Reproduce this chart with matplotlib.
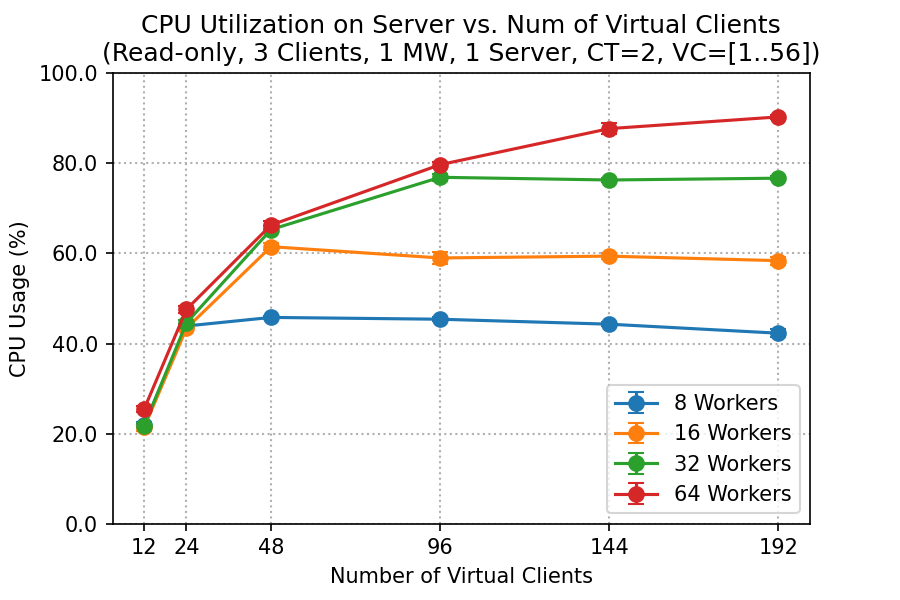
import matplotlib
matplotlib.use("Agg")
import matplotlib.pyplot as plt
from matplotlib.ticker import FormatStrFormatter

vc = [12, 24, 48, 96, 144, 192]
labels = ["8 Workers", "16 Workers", "32 Workers", "64 Workers"]
means = [
    [21.9, 43.9, 45.8, 45.4, 44.3, 42.3],
    [21.4, 43.4, 61.5, 59.0, 59.4, 58.4],
    [21.8, 44.6, 65.3, 76.9, 76.3, 76.7],
    [25.5, 47.6, 66.3, 79.7, 87.7, 90.3],
]
errs = [
    [0.6, 0.5, 0.4, 0.5, 0.5, 0.9],
    [0.7, 0.6, 0.8, 1.3, 0.6, 0.9],
    [0.5, 0.6, 0.7, 0.8, 0.5, 0.5],
    [0.7, 0.8, 0.9, 0.6, 1.3, 0.5],
]

fig, ax = plt.subplots(figsize=(6, 4), dpi=150)
fig.subplots_adjust(left=0.125, right=0.9, top=0.878, bottom=0.127)
for m, e, lab in zip(means, errs, labels):
    ax.errorbar(vc, m, yerr=e, marker="o", markersize=7, capsize=4, label=lab)

ax.set_ylim(0, 100)
ax.set_xticks(vc)
ax.yaxis.set_major_formatter(FormatStrFormatter("%.1f"))
ax.grid(True, linestyle=":", linewidth=1, color="#b0b0b0")
ax.set_xlabel("Number of Virtual Clients")
ax.set_ylabel("CPU Usage (%)")
ax.set_title("CPU Utilization on Server vs. Num of Virtual Clients\n(Read-only, 3 Clients, 1 MW, 1 Server, CT=2, VC=[1..56])")
ax.legend(loc="lower right")
fig.savefig("out.png")
